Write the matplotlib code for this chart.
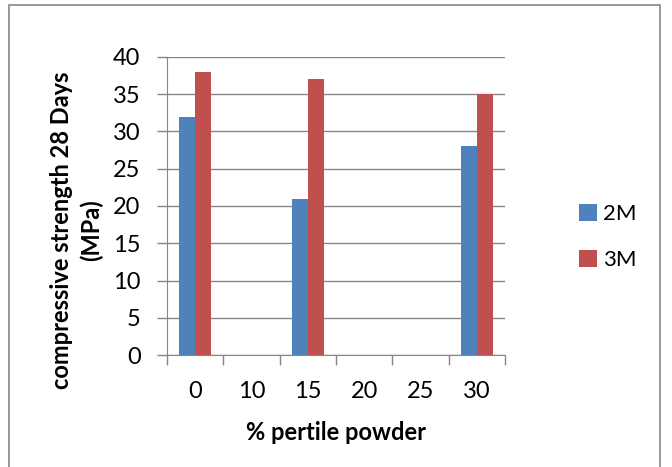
import matplotlib
matplotlib.use("Agg")
import matplotlib.pyplot as plt
from matplotlib.patches import Rectangle
import numpy as np

categories = ["0", "10", "15", "20", "25", "30"]
strength_2m = [32, 0, 21, 0, 0, 28]
strength_3m = [38, 0, 37, 0, 0, 35]
series_names = ["2M", "3M"]

plt.rcParams["font.family"] = ["Lato", "DejaVu Sans"]

fig = plt.figure(figsize=(6.72, 4.67), dpi=100)
ax = fig.add_axes([167 / 672, 1 - 355 / 467, 338 / 672, 298 / 467])

x = np.arange(len(categories))
w = 0.285
ax.bar(x - w / 2, strength_2m, w, color="#4F81BD", label=series_names[0], zorder=3)
ax.bar(x + w / 2, strength_3m, w, color="#C0504D", label=series_names[1], zorder=3)

grey = "#868686"
ax.set_xlim(-0.5, len(categories) - 0.5)
ax.set_ylim(0, 40)
ax.set_yticks(range(0, 41, 5))
ax.yaxis.grid(True, color=grey, linewidth=1.0, zorder=0)
ax.set_axisbelow(True)

ax.set_xticks(x)
ax.set_xticklabels(categories)
ax.set_xticks(np.arange(-0.5, len(categories)), minor=True)
ax.tick_params(axis="x", which="major", length=0, pad=19, labelsize=17)
ax.tick_params(axis="x", which="minor", length=7, color=grey, width=1)
ax.tick_params(axis="y", length=7, color=grey, width=1, pad=12, labelsize=17)

for side in ["top", "right"]:
    ax.spines[side].set_visible(False)
for side in ["left", "bottom"]:
    ax.spines[side].set_color(grey)

fig.text(336 / 672, 1 - 432 / 467, "% pertile powder", ha="center", va="center",
         fontsize=17, fontweight="bold")
fig.text(77 / 672, 1 - 230 / 467, "compressive strength 28 Days\n(MPa)", ha="center",
         va="center", rotation=90, fontsize=17, fontweight="bold", linespacing=1.35)

ax.legend(loc="center left", bbox_to_anchor=(559 / 672, 1 - 237 / 467),
          bbox_transform=fig.transFigure, frameon=False, fontsize=16,
          handlelength=0.8, handleheight=0.8, handletextpad=0.3, labelspacing=1.15)

fig.patches.append(Rectangle((9 / 672, -0.05), 651 / 672, 1.04 - 5 / 467 + 0.01,
                             transform=fig.transFigure, fill=False,
                             edgecolor=grey, linewidth=1.2))

fig.savefig("out.png", dpi=100, facecolor="white")
